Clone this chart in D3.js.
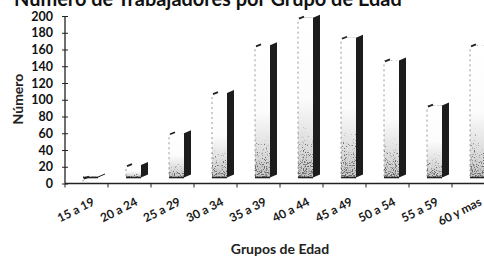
<!DOCTYPE html>
<html>
<head>
<meta charset="utf-8">
<script src="https://cdn.jsdelivr.net/npm/d3@7"></script>
<style>
  body { margin: 0; background: #fff; }
  svg { display: block; }
</style>
</head>
<body>
<div id="chart"></div>
<script>
// data
const categories = ["15 a 19", "20 a 24", "25 a 29", "30 a 34", "35 a 39",
                    "40 a 44", "45 a 49", "50 a 54", "55 a 59", "60 y mas"];
const workers    = [7, 22, 60, 108, 165, 198, 174, 147, 93, 165];
const yTicks     = [0, 20, 40, 60, 80, 100, 120, 140, 160, 180, 200];

const width  = 484,
      height = 262,
      font   = "Lato, 'Open Sans', sans-serif",
      step   = 43,
      x0     = 65,
      frontOff = 18,  // front face offset inside the band
      frontW   = 15,
      sideW    = 7,
      depthY   = 3,
      floorUp  = 6;

const svg = d3.select("#chart").append("svg")
    .attr("width", width)
    .attr("height", height);

const x = d3.scaleBand()
    .domain(categories)
    .range([x0, x0 + step * categories.length])
    .padding(0);

const y = d3.scaleLinear()
    .domain([0, 200])
    .range([183.5, 16]);

// grainy look of the scan
const defs = svg.append("defs");
const grad = defs.append("linearGradient")
    .attr("id", "frontGrad")
    .attr("x1", 0).attr("y1", 0).attr("x2", 0).attr("y2", 1);
grad.append("stop").attr("offset", "0%").attr("stop-color", "#ffffff");
grad.append("stop").attr("offset", "50%").attr("stop-color", "#fcfcfc");
grad.append("stop").attr("offset", "100%").attr("stop-color", "#c8c8c8");

const f = defs.append("filter").attr("id", "grain")
    .attr("x", 0).attr("y", 0).attr("width", 1).attr("height", 1);
f.append("feTurbulence").attr("type", "fractalNoise")
    .attr("baseFrequency", 0.9).attr("numOctaves", 1).attr("seed", 4).attr("result", "t");
f.append("feColorMatrix").attr("in", "t").attr("type", "matrix")
    .attr("values", "1 0 0 0 0  1 0 0 0 0  1 0 0 0 0  0 0 0 0 1").attr("result", "n");
f.append("feComposite").attr("in", "n").attr("in2", "SourceGraphic")
    .attr("operator", "arithmetic")
    .attr("k1", 0).attr("k2", 1).attr("k3", -1).attr("k4", 1).attr("result", "v");
f.append("feColorMatrix").attr("in", "v").attr("type", "matrix")
    .attr("values", "0 0 0 0 0.1  0 0 0 0 0.1  0 0 0 0 0.1  7 0 0 0 -6.1").attr("result", "dots");
f.append("feComposite").attr("in", "dots").attr("in2", "SourceAlpha")
    .attr("operator", "in").attr("result", "dotsIn");
const m = f.append("feMerge");
m.append("feMergeNode").attr("in", "SourceGraphic");
m.append("feMergeNode").attr("in", "dotsIn");

// title (cut off at the top in the scan)
const title = svg.append("text")
    .attr("x", 14)
    .attr("y", 6)
    .style("font-family", font)
    .style("font-weight", "bold")
    .style("font-size", "18px")
    .style("fill", "#111")
    .text("Número de Trabajadores por Grupo de Edad");
let tw = title.node().getComputedTextLength();
title.style("font-size", (18 * 388 / tw) + "px");

// y axis
const yAxis = svg.append("g")
    .attr("transform", `translate(${x0},0)`)
    .call(d3.axisLeft(y).tickValues(yTicks).tickSize(3).tickPadding(9));
yAxis.select(".domain").attr("d", `M0,${y(200)}V${y(0)}`).attr("stroke", "#222").attr("stroke-width", 1.3);
yAxis.selectAll(".tick line").attr("x1", -3).attr("x2", 3).attr("stroke", "#222");
yAxis.selectAll(".tick text")
    .style("font-family", font)
    .style("font-weight", "bold")
    .style("font-size", "12.5px")
    .attr("fill", "#111");

svg.append("text")
    .attr("transform", `translate(18,${99}) rotate(-90)`)
    .attr("text-anchor", "middle")
    .attr("dy", "0.35em")
    .style("font-family", font)
    .style("font-weight", "bold")
    .style("font-size", "14px")
    .style("fill", "#222")
    .text("Número");

// x axis
const xAxis = svg.append("g")
    .attr("transform", `translate(0,${y(0)})`);
xAxis.append("line")
    .attr("x1", x0).attr("x2", width)
    .attr("stroke", "#222").attr("stroke-width", 1.3);
xAxis.selectAll(".xtick")
    .data(categories)
    .enter().append("line")
    .attr("class", "xtick")
    .attr("x1", d => x(d)).attr("x2", d => x(d))
    .attr("y1", 0).attr("y2", 4)
    .attr("stroke", "#222");
xAxis.selectAll(".xlab")
    .data(categories)
    .enter().append("text")
    .attr("class", "xlab")
    .attr("text-anchor", "end")
    .attr("transform", d => `translate(${x(d) + x.bandwidth() / 2 + 9},${21}) rotate(-27)`)
    .style("font-family", font)
    .style("font-weight", "bold")
    .style("font-size", "12px")
    .style("fill", "#1a1a1a")
    .text(d => d);

svg.append("text")
    .attr("x", 280)
    .attr("y", 254)
    .attr("text-anchor", "middle")
    .style("font-family", font)
    .style("font-weight", "bold")
    .style("font-size", "14px")
    .style("fill", "#222")
    .text("Grupos de Edad");

// 3d columns
const bars = svg.append("g").selectAll(".bar")
    .data(categories.map((c, i) => ({cat: c, val: workers[i]})))
    .enter().append("g")
    .attr("class", "bar");

const bottom = y(0) - floorUp;

// front face
bars.append("rect")
    .attr("x", d => x(d.cat) + frontOff)
    .attr("y", d => Math.min(y(d.val), bottom - 1))
    .attr("width", frontW)
    .attr("height", d => Math.max(1, bottom - y(d.val)))
    .attr("fill", "url(#frontGrad)")
    .attr("filter", "url(#grain)");

// dark side face
bars.append("path")
    .attr("d", d => {
        const xs = x(d.cat) + frontOff + frontW,
              top = Math.min(y(d.val), bottom - 1);
        return `M${xs},${top}L${xs + sideW},${top - depthY}L${xs + sideW},${bottom - depthY}L${xs},${bottom}Z`;
    })
    .attr("fill", "#1c1c1c");

// base line of the front face
bars.append("line")
    .attr("x1", d => x(d.cat) + frontOff)
    .attr("x2", d => x(d.cat) + frontOff + frontW)
    .attr("y1", bottom).attr("y2", bottom)
    .attr("stroke", "#222").attr("stroke-width", 1.6);

// faint left edge
bars.append("line")
    .attr("x1", d => x(d.cat) + frontOff)
    .attr("x2", d => x(d.cat) + frontOff)
    .attr("y1", d => y(d.val) + 4).attr("y2", bottom)
    .attr("stroke", "#555").attr("stroke-width", 1)
    .attr("stroke-dasharray", "2,3")
    .attr("opacity", 0.6);

// the small dash left at the top corner
bars.append("line")
    .attr("x1", d => x(d.cat) + frontOff + 1)
    .attr("x2", d => x(d.cat) + frontOff + 6)
    .attr("y1", d => y(d.val) + 1)
    .attr("y2", d => y(d.val) - 1)
    .attr("stroke", "#222").attr("stroke-width", 1.8);
</script>
</body>
</html>
